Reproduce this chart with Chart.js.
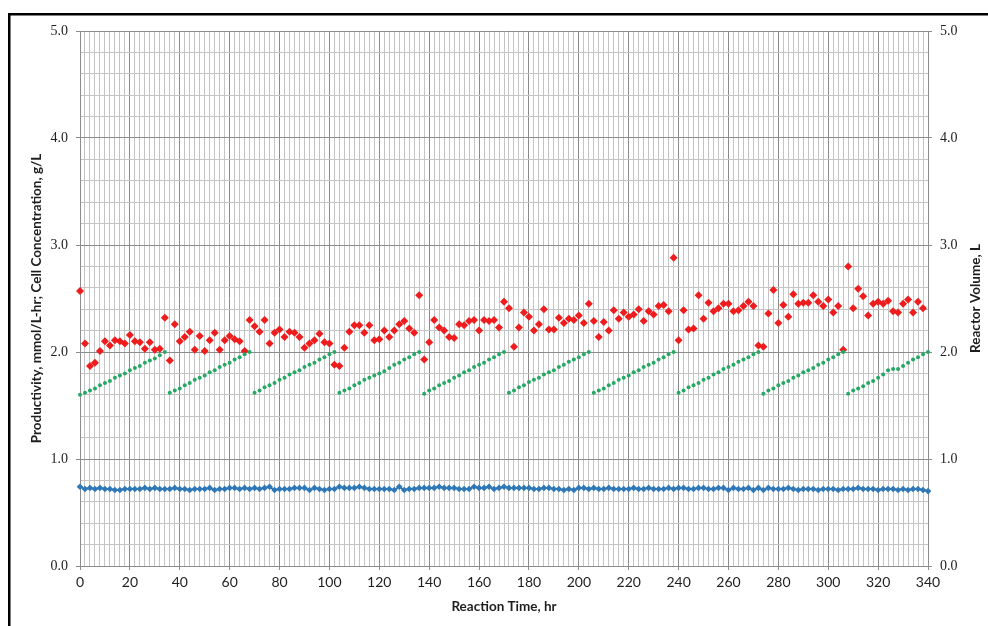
<!DOCTYPE html>
<html>
<head>
<meta charset="utf-8">
<script src="https://cdn.jsdelivr.net/npm/chart.js@4/dist/chart.umd.min.js"></script>
<style>
  html, body { margin: 0; padding: 0; background: #ffffff; }
  #wrap { width: 988px; height: 626px; position: relative; }
</style>
</head>
<body>
<div id="wrap"><canvas id="c" width="988" height="626"></canvas></div>
<script>
// Sampling interval of the fed-batch run, hours
const SAMPLE_STEP_HR = 2;

// Productivity, mmol/L-hr (samples at 0, 2, ... 338 hr)
const productivity = [
  2.57, 2.08, 1.87, 1.90, 2.01, 2.10, 2.06, 2.11, 2.10, 2.08,
  2.16, 2.10, 2.09, 2.03, 2.09, 2.02, 2.03, 2.32, 1.92, 2.26,
  2.10, 2.14, 2.19, 2.02, 2.15, 2.01, 2.11, 2.18, 2.02, 2.11,
  2.15, 2.12, 2.10, 2.01, 2.30, 2.24, 2.19, 2.30, 2.08, 2.18,
  2.21, 2.14, 2.19, 2.18, 2.14, 2.04, 2.08, 2.11, 2.17, 2.09,
  2.08, 1.88, 1.87, 2.04, 2.19, 2.25, 2.25, 2.18, 2.25, 2.11,
  2.12, 2.20, 2.14, 2.20, 2.26, 2.29, 2.22, 2.18, 2.53, 1.93,
  2.09, 2.30, 2.23, 2.20, 2.14, 2.13, 2.26, 2.25, 2.29, 2.30,
  2.20, 2.30, 2.29, 2.30, 2.23, 2.47, 2.41, 2.05, 2.23, 2.37,
  2.33, 2.20, 2.26, 2.40, 2.21, 2.21, 2.32, 2.27, 2.31, 2.30,
  2.34, 2.27, 2.45, 2.29, 2.14, 2.28, 2.20, 2.39, 2.31, 2.37,
  2.33, 2.35, 2.40, 2.29, 2.38, 2.35, 2.43, 2.44, 2.38, 2.88,
  2.11, 2.39, 2.21, 2.22, 2.53, 2.31, 2.46, 2.38, 2.41, 2.45,
  2.45, 2.38, 2.39, 2.43, 2.47, 2.43, 2.06, 2.05, 2.36, 2.58,
  2.27, 2.44, 2.33, 2.54, 2.45, 2.46, 2.46, 2.53, 2.47, 2.43,
  2.49, 2.37, 2.43, 2.02, 2.80, 2.41, 2.59, 2.52, 2.34, 2.45,
  2.47, 2.45, 2.48, 2.38, 2.37, 2.45, 2.49, 2.37, 2.47, 2.41
];

// Cell concentration, g/L (samples at 0, 2, ... 340 hr)
const cellConc = [
  0.74, 0.72, 0.73, 0.72, 0.73, 0.72, 0.72, 0.71, 0.71, 0.72,
  0.72, 0.72, 0.72, 0.73, 0.72, 0.73, 0.72, 0.72, 0.72, 0.73,
  0.72, 0.72, 0.71, 0.72, 0.72, 0.72, 0.73, 0.71, 0.72, 0.72,
  0.73, 0.73, 0.72, 0.73, 0.72, 0.73, 0.72, 0.73, 0.74, 0.71,
  0.72, 0.72, 0.72, 0.73, 0.73, 0.73, 0.71, 0.73, 0.72, 0.71,
  0.72, 0.72, 0.74, 0.73, 0.73, 0.73, 0.74, 0.73, 0.72, 0.72,
  0.72, 0.72, 0.72, 0.71, 0.74, 0.71, 0.72, 0.72, 0.73, 0.73,
  0.73, 0.73, 0.74, 0.73, 0.73, 0.73, 0.72, 0.72, 0.72, 0.74,
  0.73, 0.73, 0.74, 0.72, 0.73, 0.74, 0.73, 0.73, 0.73, 0.73,
  0.73, 0.72, 0.72, 0.73, 0.73, 0.72, 0.72, 0.71, 0.72, 0.71,
  0.73, 0.73, 0.72, 0.73, 0.72, 0.72, 0.73, 0.72, 0.72, 0.72,
  0.72, 0.73, 0.72, 0.72, 0.73, 0.72, 0.72, 0.72, 0.73, 0.72,
  0.73, 0.73, 0.72, 0.72, 0.73, 0.73, 0.72, 0.72, 0.73, 0.73,
  0.71, 0.73, 0.72, 0.72, 0.73, 0.71, 0.73, 0.71, 0.73, 0.72,
  0.72, 0.72, 0.73, 0.72, 0.71, 0.72, 0.72, 0.72, 0.71, 0.72,
  0.72, 0.72, 0.71, 0.72, 0.72, 0.72, 0.73, 0.72, 0.72, 0.72,
  0.71, 0.72, 0.72, 0.72, 0.71, 0.72, 0.71, 0.72, 0.72, 0.71,
  0.70
];

// Reactor volume, L (samples at 0, 2, ... 340 hr), one row per fill cycle
const reactorVolume = [
  1.60, 1.62, 1.64, 1.66, 1.69, 1.71, 1.73, 1.76, 1.78, 1.80, 1.83, 1.85, 1.87, 1.90, 1.92, 1.94, 1.97, 2.00,
  1.62, 1.64, 1.66, 1.69, 1.71, 1.74, 1.76, 1.78, 1.81, 1.83, 1.86, 1.88, 1.90, 1.93, 1.95, 1.98, 2.00,
  1.62, 1.64, 1.67, 1.69, 1.71, 1.74, 1.76, 1.79, 1.81, 1.83, 1.86, 1.88, 1.90, 1.93, 1.95, 1.98, 2.00,
  1.62, 1.64, 1.66, 1.69, 1.71, 1.74, 1.76, 1.78, 1.80, 1.82, 1.85, 1.88, 1.90, 1.93, 1.95, 1.98, 2.00,
  1.61, 1.64, 1.66, 1.69, 1.71, 1.73, 1.76, 1.78, 1.81, 1.83, 1.86, 1.88, 1.90, 1.93, 1.95, 1.98, 2.00,
  1.62, 1.64, 1.67, 1.69, 1.72, 1.74, 1.76, 1.79, 1.81, 1.83, 1.86, 1.88, 1.91, 1.93, 1.95, 1.98, 2.00,
  1.62, 1.64, 1.66, 1.69, 1.71, 1.74, 1.76, 1.78, 1.81, 1.83, 1.86, 1.88, 1.90, 1.93, 1.95, 1.98, 2.00,
  1.62, 1.64, 1.67, 1.69, 1.71, 1.74, 1.76, 1.79, 1.81, 1.84, 1.86, 1.88, 1.91, 1.93, 1.95, 1.98, 2.00,
  1.61, 1.64, 1.66, 1.69, 1.71, 1.73, 1.76, 1.78, 1.81, 1.83, 1.85, 1.88, 1.90, 1.93, 1.95, 1.98, 2.00,
  1.61, 1.64, 1.66, 1.68, 1.71, 1.73, 1.76, 1.79, 1.83, 1.84, 1.84, 1.87, 1.90, 1.93, 1.95, 1.98, 2.00
];

// Axis tick labels
const xTickLabels = ['0','20','40','60','80','100','120','140','160','180','200','220','240','260','280','300','320','340'];
const yTickLabels = ['0.0','1.0','2.0','3.0','4.0','5.0'];

const toPoints = (vals) => vals.map((v, i) => ({ x: i * SAMPLE_STEP_HR, y: v }));

const MINOR = '#c4c4c4';
const MAJOR = '#8c8c8c';
const TEXT = '#1e1e1e';
const TITLE_FONT = 'bold 13.5px Lato, "Open Sans", sans-serif';
const isMajorX = (v) => Math.abs(v / 20 - Math.round(v / 20)) < 1e-6;
const isMajorY = (v) => Math.abs(v - Math.round(v)) < 1e-6;

// White background and the outer frame
const framePlugin = {
  id: 'frame',
  beforeDraw(chart) {
    const ctx = chart.ctx;
    ctx.save();
    ctx.fillStyle = '#ffffff';
    ctx.fillRect(0, 0, chart.width, chart.height);
    ctx.restore();
  },
  afterDraw(chart) {
    const ctx = chart.ctx;
    ctx.save();
    ctx.strokeStyle = '#000000';
    ctx.lineWidth = 2.5;
    ctx.strokeRect(9.25, 14.25, 1000, 700);
    ctx.restore();
  }
};

// Axis titles
const titlePlugin = {
  id: 'axisTitles',
  afterDraw(chart) {
    const ctx = chart.ctx;
    const a = chart.chartArea;
    const midY = (a.top + a.bottom) / 2;
    ctx.save();
    ctx.fillStyle = TEXT;
    ctx.font = TITLE_FONT;
    ctx.textAlign = 'center';
    ctx.textBaseline = 'middle';
    ctx.fillText('Reaction Time, hr', (a.left + a.right) / 2, 607);

    ctx.translate(37, midY);
    ctx.rotate(-Math.PI / 2);
    ctx.fillText('Productivity, mmol/L-hr; Cell Concentration, g/L', 0, 0);
    ctx.restore();

    ctx.save();
    ctx.fillStyle = TEXT;
    ctx.font = TITLE_FONT;
    ctx.textAlign = 'center';
    ctx.textBaseline = 'middle';
    ctx.translate(976, midY);
    ctx.rotate(-Math.PI / 2);
    ctx.fillText('Reactor Volume, L', 0, 0);
    ctx.restore();
  }
};

const yTickCallback = (v) => {
  if (!isMajorY(v)) return '';
  const label = Math.round(v).toFixed(1);
  return yTickLabels.includes(label) ? label : '';
};
const xTickCallback = (v) => {
  const label = String(Math.round(v));
  return isMajorX(v) && xTickLabels.includes(label) ? label : '';
};

new Chart(document.getElementById('c'), {
  type: 'scatter',
  data: {
    datasets: [
      {
        label: 'Cell Concentration, g/L',
        data: toPoints(cellConc),
        yAxisID: 'y',
        showLine: true,
        clip: false,
        borderColor: '#2f78b8',
        backgroundColor: '#2f78b8',
        borderWidth: 1.8,
        pointStyle: 'rectRot',
        pointRadius: 3.3,
        pointBorderWidth: 0,
        order: 3
      },
      {
        label: 'Productivity, mmol/L-hr',
        data: toPoints(productivity),
        yAxisID: 'y',
        showLine: false,
        clip: false,
        borderColor: '#ee1c1c',
        backgroundColor: '#ee1c1c',
        pointStyle: 'rectRot',
        pointRadius: 4,
        pointBorderWidth: 0,
        order: 2
      },
      {
        label: 'Reactor Volume, L',
        data: toPoints(reactorVolume),
        yAxisID: 'y2',
        showLine: false,
        clip: false,
        borderColor: '#25a863',
        backgroundColor: '#25a863',
        pointStyle: 'circle',
        pointRadius: 2,
        pointBorderWidth: 0,
        order: 1
      }
    ]
  },
  options: {
    responsive: false,
    animation: false,
    devicePixelRatio: 1,
    layout: { padding: { top: 31, left: 0, right: 0, bottom: 0 } },
    plugins: {
      legend: { display: false },
      tooltip: { enabled: false }
    },
    scales: {
      x: {
        type: 'linear',
        min: 0,
        max: 340,
        afterFit: (s) => { s.height = 60; },
        border: { color: MAJOR, width: 1 },
        grid: {
          color: (c) => isMajorX(c.tick.value) ? MAJOR : MINOR,
          tickColor: (c) => isMajorX(c.tick.value) ? MAJOR : 'rgba(0,0,0,0)',
          tickLength: 4,
          lineWidth: 1
        },
        ticks: {
          stepSize: 2,
          autoSkip: false,
          maxRotation: 0,
          padding: 4,
          color: TEXT,
          font: { family: 'Lato, "Open Sans", sans-serif', size: 14 },
          callback: xTickCallback
        }
      },
      y: {
        position: 'left',
        min: 0,
        max: 5,
        afterFit: (s) => { s.width = 80; },
        border: { color: MAJOR, width: 1 },
        grid: {
          color: (c) => isMajorY(c.tick.value) ? MAJOR : MINOR,
          tickColor: (c) => isMajorY(c.tick.value) ? MAJOR : 'rgba(0,0,0,0)',
          tickLength: 4,
          lineWidth: 1
        },
        ticks: {
          stepSize: 0.2,
          autoSkip: false,
          padding: 8,
          color: TEXT,
          font: { family: '"Liberation Serif", "Times New Roman", serif', size: 14 },
          callback: yTickCallback
        }
      },
      y2: {
        position: 'right',
        min: 0,
        max: 5,
        afterFit: (s) => { s.width = 60; },
        border: { color: MAJOR, width: 1 },
        grid: {
          drawOnChartArea: false,
          tickColor: (c) => isMajorY(c.tick.value) ? MAJOR : 'rgba(0,0,0,0)',
          tickLength: 4
        },
        ticks: {
          stepSize: 0.2,
          autoSkip: false,
          padding: 8,
          color: TEXT,
          font: { family: '"Liberation Serif", "Times New Roman", serif', size: 14 },
          callback: yTickCallback
        }
      }
    }
  },
  plugins: [framePlugin, titlePlugin]
});
</script>
</body>
</html>
